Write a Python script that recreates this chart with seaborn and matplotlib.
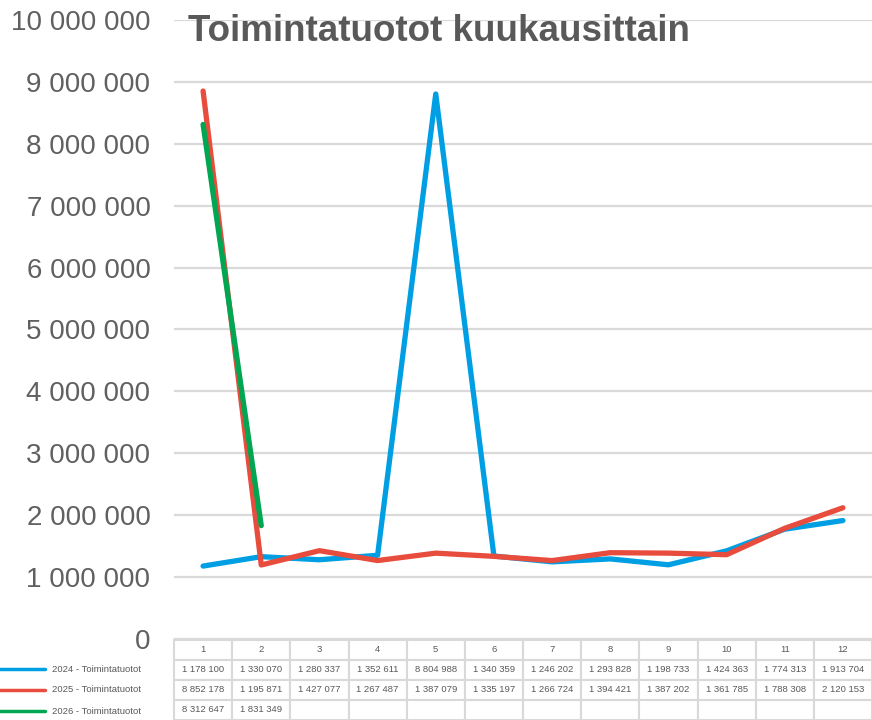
import numpy as np
import pandas as pd
import seaborn as sns
import matplotlib.pyplot as plt
from matplotlib.lines import Line2D

months = list(range(1, 13))
series_names = ["2024 - Toimintatuotot", "2025 - Toimintatuotot", "2026 - Toimintatuotot"]
vals_2024 = [1178100, 1330070, 1280337, 1352611, 8804988, 1340359,
             1246202, 1293828, 1198733, 1424363, 1774313, 1913704]
vals_2025 = [8852178, 1195871, 1427077, 1267487, 1387079, 1335197,
             1266724, 1394421, 1387202, 1361785, 1788308, 2120153]
vals_2026 = [8312647, 1831349] + [np.nan] * 10
colors = ["#009FE3", "#E84C3D", "#00A651"]
yticks = list(range(0, 10000001, 1000000))

sns.set_style("white")
plt.rcParams["font.family"] = ["Liberation Sans", "DejaVu Sans"]
grey = "#595959"
line_grey = "#D9D9D9"

df = pd.DataFrame({
    "month": months * 3,
    "value": vals_2024 + vals_2025 + vals_2026,
    "series": [s for s in series_names for _ in months],
})

W, H = 872, 720
fig = plt.figure(figsize=(W / 100, H / 100), dpi=100)
ax = fig.add_axes([174 / W, 81 / H, 698 / W, 619 / H])

sns.lineplot(data=df, x="month", y="value", hue="series", palette=colors,
             linewidth=3.8, legend=False, ax=ax)
for ln in ax.lines:
    ln.set_solid_capstyle("round")

ax.set_xlim(0.5, 12.5)
ax.set_ylim(0, 10000000)
ax.set_yticks(yticks)
ax.set_yticklabels([f"{v:,}".replace(",", " ") for v in yticks],
                   fontsize=20, color="#606060")
ax.tick_params(axis="y", length=0, pad=17)
ax.set_xticks([])
ax.set_xlabel("")
ax.set_ylabel("")
ax.yaxis.grid(True, color=line_grey, linewidth=1.6)
ax.set_axisbelow(True)
for sp in ax.spines.values():
    sp.set_visible(False)
ax.set_title("Toimintatuotot kuukausittain", loc="left", fontsize=26.5,
             fontweight="bold", color=grey, x=0.02, y=0.952)

# data table under the chart
tab_ax = fig.add_axes([174 / W, 0, 698 / W, 80 / H])
tab_ax.axis("off")
def fmt(v):
    return "" if pd.isna(v) else f"{int(v):,}".replace(",", " ")
cell_text = [[fmt(v) for v in row] for row in (vals_2024, vals_2025, vals_2026)]
tab = tab_ax.table(cellText=cell_text, colLabels=[str(m) for m in months],
                   cellLoc="center", bbox=[0, 0, 1, 1])
tab.auto_set_font_size(False)
for (r, c), cell in tab.get_celld().items():
    cell.set_edgecolor(line_grey)
    cell.set_linewidth(1.5)
    cell.get_text().set_fontsize(6.8)
    cell.get_text().set_color(grey)

# row labels with colored keys
for i, (name, col) in enumerate(zip(series_names, colors)):
    yc = (51 - 21 * i) / H
    fig.add_artist(Line2D([0, 45 / W], [yc, yc], color=col, linewidth=2.5,
                          transform=fig.transFigure))
    fig.text(52 / W, yc, name, fontsize=6.8, color=grey, va="center", ha="left")

fig.savefig("out.png", dpi=100)
